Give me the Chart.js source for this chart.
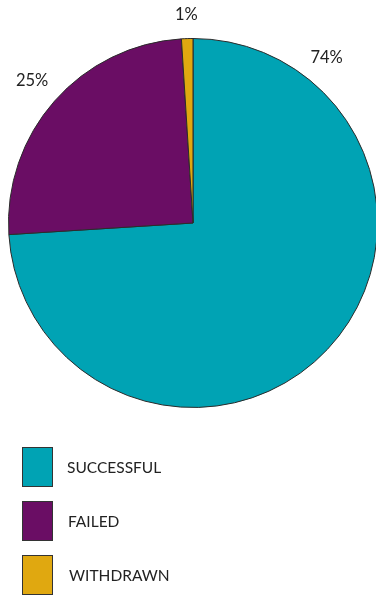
<!DOCTYPE html>
<html>
<head>
<meta charset="utf-8">
<script src="https://cdn.jsdelivr.net/npm/chart.js@4"></script>
<style>
  html, body { margin: 0; padding: 0; background: #fff; overflow: hidden; }
  #wrap { position: relative; width: 379px; height: 596px; }
</style>
</head>
<body>
<div id="wrap"><canvas id="myChart"></canvas></div>
<script>
const labels = ['SUCCESSFUL', 'FAILED', 'WITHDRAWN'];
const shares = [74, 25, 1];
const colours = ['#00a3b4', '#6a0d64', '#e0a810'];

const fontFamily = 'Lato, "Open Sans", sans-serif';

// percent labels just outside the rim; the big slice's label sits up by the top right
const pctLabels = {
  id: 'pctLabels',
  afterDatasetsDraw(chart) {
    const ctx = chart.ctx;
    const meta = chart.getDatasetMeta(0);
    ctx.save();
    ctx.font = '16.5px ' + fontFamily;
    ctx.fillStyle = '#222';
    ctx.textAlign = 'center';
    ctx.textBaseline = 'middle';
    meta.data.forEach(function(arc, i) {
      let a = (arc.startAngle + arc.endAngle) / 2;
      let r = arc.outerRadius + 30;
      if (i === 0) { a = -Math.PI / 2 + 0.68; r = arc.outerRadius + 28; }
      if (i === 2) { r = arc.outerRadius + 24; }
      const x = arc.x + Math.cos(a) * r;
      const y = arc.y + Math.sin(a) * r;
      ctx.fillText(shares[i] + '%', x, y);
    });
    ctx.restore();
  }
};

// stacked legend under the pie
const boxLegend = {
  id: 'boxLegend',
  afterDraw(chart) {
    const ctx = chart.ctx;
    ctx.save();
    ctx.font = '15.5px ' + fontFamily;
    ctx.textBaseline = 'middle';
    labels.forEach(function(lab, i) {
      const y = 447 + i * 54;
      ctx.fillStyle = colours[i];
      ctx.fillRect(22, y, 30, 39);
      ctx.strokeStyle = '#333';
      ctx.lineWidth = 1;
      ctx.strokeRect(22.5, y + 0.5, 30, 39);
      ctx.fillStyle = '#222';
      ctx.fillText(lab, 67 + i, y + 21);
    });
    ctx.restore();
  }
};

const ctx1 = document.getElementById('myChart').getContext('2d');
const shareChart = new Chart(ctx1, {
  type: 'pie',
  data: {
    labels: labels,
    datasets: [{
      data: shares,
      backgroundColor: colours,
      borderColor: '#2b2b2b',
      borderWidth: 1
    }]
  },
  options: {
    responsive: true,
    maintainAspectRatio: false,
    animation: false,
    layout: { padding: { left: 8, right: 1, top: 38, bottom: 188 } },
    plugins: {
      legend: { display: false },
      tooltip: { enabled: false }
    }
  },
  plugins: [pctLabels, boxLegend]
});
</script>
</body>
</html>
